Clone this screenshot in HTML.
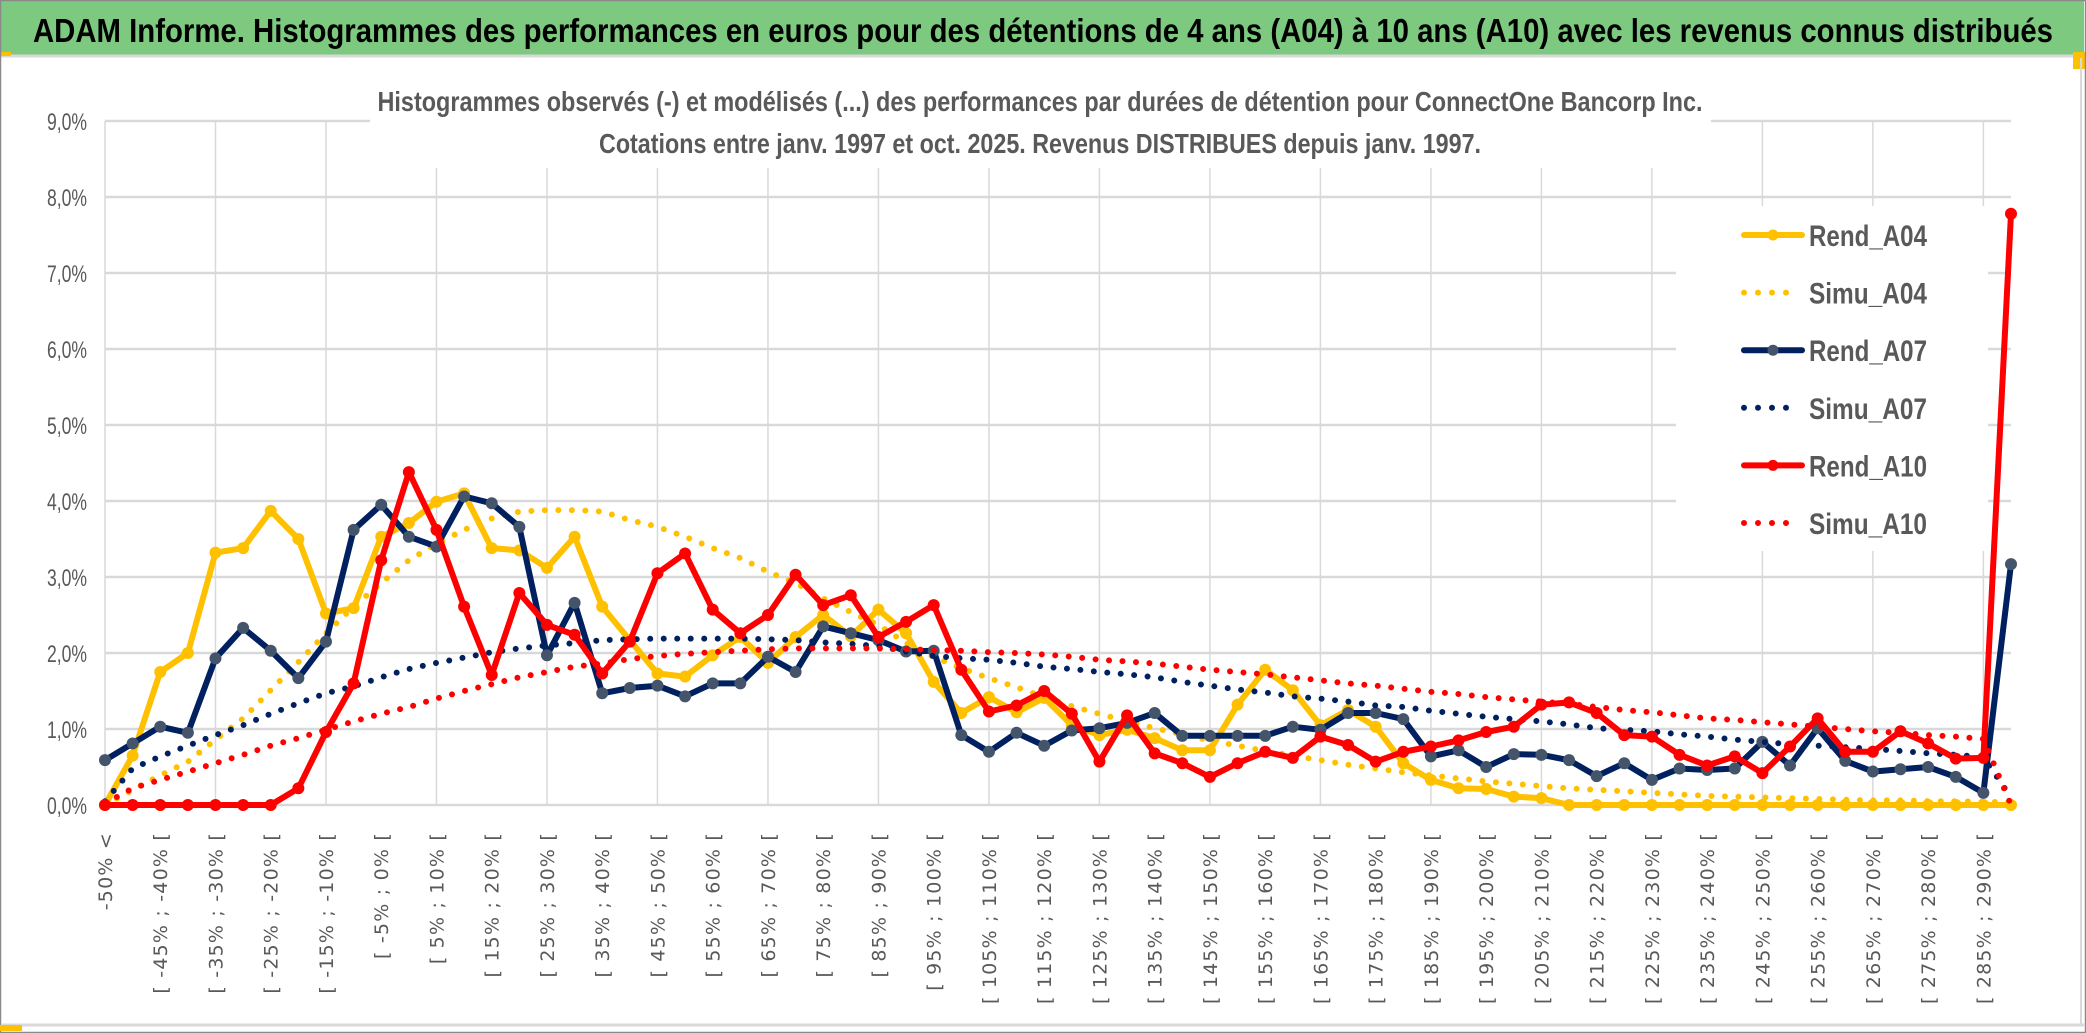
<!DOCTYPE html>
<html><head><meta charset="utf-8"><style>
html,body{margin:0;padding:0;background:#fff;}
svg{display:block;}
</style></head><body>
<svg id="chart" xmlns="http://www.w3.org/2000/svg" width="2086" height="1033" viewBox="0 0 2086 1033">
<rect x="0" y="0" width="2086" height="1033" fill="#fff"/>
<rect x="0" y="1" width="2084" height="54" fill="#7DC97F"/>
<line x1="0" y1="56" x2="2086" y2="56" stroke="#d9d9d9" stroke-width="3"/>
<rect x="0" y="52" width="11" height="4" fill="#FFC000"/>
<rect x="2073" y="52" width="12" height="17" fill="#FFC000"/>
<rect x="0.5" y="0.5" width="2085" height="1032" fill="none" stroke="#8a8a8a" stroke-width="1.5"/>
<line x1="2" y1="1025" x2="2084" y2="1025" stroke="#d9d9d9" stroke-width="3"/>
<rect x="0" y="1025" width="22" height="6" fill="#FFC000"/>
<line x1="2081" y1="58" x2="2081" y2="1024" stroke="#d9d9d9" stroke-width="2"/>
<text x="33" y="42" font-family="Liberation Sans, sans-serif" font-weight="bold" font-size="33" fill="#000" textLength="2020" lengthAdjust="spacingAndGlyphs">ADAM Informe. Histogrammes des performances en euros pour des détentions de 4 ans (A04) à 10 ans (A10) avec les revenus connus distribués</text>
<g id="grid"></g>
<rect x="370" y="70" width="1341" height="98" fill="#fff"/>
<rect x="1676" y="206" width="312" height="345" fill="#fff"/>
<text x="1040" y="111" text-anchor="middle" font-family="Liberation Sans, sans-serif" font-weight="bold" font-size="28" fill="#595959" textLength="1325" lengthAdjust="spacingAndGlyphs">Histogrammes observés (-) et modélisés (...) des performances par durées de détention pour ConnectOne Bancorp Inc.</text>
<text x="1040" y="153" text-anchor="middle" font-family="Liberation Sans, sans-serif" font-weight="bold" font-size="28" fill="#595959" textLength="882" lengthAdjust="spacingAndGlyphs">Cotations entre janv. 1997 et oct. 2025. Revenus DISTRIBUES depuis janv. 1997.</text>
<g id="yaxis"></g>
<g id="xaxis"></g>
<g id="series"></g>
<g id="legend"></g>
</svg>
<script>
const yTicks = [0,1,2,3,4,5,6,7,8,9];
const yTickLabels = ["0,0%","1,0%","2,0%","3,0%","4,0%","5,0%","6,0%","7,0%","8,0%","9,0%"];
const binStarts = [];
for (let k = 1; k < 70; k++) binStarts.push(-50 + 5*(k-1));
const categories = ["-50% <"].concat(binStarts.map(a => "[ " + a + "% ; " + (a+5) + "% ["));
const rendA04 = [0,0.65,1.75,2.0,3.32,3.38,3.87,3.5,2.52,2.59,3.53,3.71,3.99,4.1,3.38,3.35,3.12,3.53,2.61,2.17,1.73,1.69,1.97,2.21,1.87,2.21,2.5,2.22,2.57,2.26,1.62,1.21,1.42,1.22,1.41,1.05,0.92,0.99,0.88,0.72,0.72,1.32,1.78,1.51,1.05,1.25,1.03,0.55,0.33,0.22,0.21,0.11,0.09,0,0,0,0,0,0,0,0,0,0,0,0,0,0,0,0,0];
const simuA04 = [0,0.2,0.39,0.57,0.86,1.14,1.51,1.88,2.26,2.61,2.92,3.22,3.44,3.62,3.77,3.86,3.88,3.88,3.86,3.75,3.66,3.53,3.38,3.25,3.07,2.92,2.72,2.54,2.37,2.13,1.95,1.8,1.67,1.55,1.42,1.3,1.2,1.1,1.01,0.93,0.85,0.78,0.71,0.65,0.59,0.53,0.48,0.43,0.39,0.35,0.31,0.28,0.25,0.22,0.2,0.18,0.16,0.14,0.12,0.11,0.1,0.09,0.08,0.07,0.06,0.06,0.05,0.05,0.04,0.04];
const rendA07 = [0.59,0.81,1.03,0.95,1.93,2.33,2.03,1.67,2.15,3.62,3.95,3.53,3.4,4.06,3.97,3.66,1.97,2.66,1.47,1.54,1.57,1.43,1.6,1.6,1.95,1.75,2.35,2.26,2.17,2.02,2.03,0.92,0.7,0.95,0.78,0.98,1.01,1.08,1.21,0.91,0.91,0.91,0.91,1.03,0.99,1.21,1.21,1.13,0.64,0.72,0.5,0.67,0.66,0.59,0.38,0.55,0.33,0.48,0.46,0.48,0.83,0.52,1.01,0.58,0.44,0.47,0.5,0.37,0.16,3.17];
const simuA07 = [0.05,0.48,0.64,0.78,0.92,1.05,1.2,1.34,1.47,1.56,1.68,1.79,1.87,1.94,2.01,2.06,2.1,2.13,2.17,2.18,2.19,2.19,2.19,2.19,2.18,2.17,2.14,2.12,2.09,2.02,1.96,1.93,1.91,1.87,1.82,1.79,1.75,1.72,1.68,1.62,1.57,1.52,1.48,1.43,1.4,1.36,1.31,1.29,1.24,1.2,1.16,1.13,1.1,1.06,1.01,0.99,0.97,0.93,0.9,0.86,0.83,0.8,0.78,0.76,0.74,0.71,0.68,0.66,0.63,0.1];
const rendA10 = [0,0,0,0,0,0,0,0.22,0.96,1.6,3.22,4.38,3.62,2.61,1.71,2.79,2.37,2.24,1.73,2.15,3.05,3.31,2.57,2.26,2.5,3.03,2.63,2.76,2.21,2.41,2.63,1.78,1.23,1.31,1.5,1.2,0.57,1.18,0.68,0.55,0.37,0.55,0.7,0.62,0.9,0.79,0.57,0.7,0.77,0.85,0.96,1.03,1.32,1.35,1.21,0.92,0.9,0.66,0.52,0.64,0.42,0.77,1.14,0.7,0.7,0.97,0.81,0.61,0.62,7.78];
const simuA10 = [0.02,0.22,0.33,0.44,0.55,0.66,0.78,0.88,0.99,1.1,1.2,1.29,1.4,1.5,1.59,1.68,1.75,1.82,1.86,1.92,1.96,1.99,2.01,2.03,2.05,2.06,2.06,2.06,2.06,2.05,2.04,2.03,2.01,2.0,1.98,1.95,1.91,1.89,1.86,1.82,1.78,1.75,1.72,1.68,1.64,1.6,1.57,1.53,1.49,1.46,1.42,1.39,1.36,1.33,1.29,1.25,1.22,1.18,1.14,1.12,1.09,1.06,1.03,1.0,0.97,0.95,0.92,0.9,0.87,0.0];
const seriesNames = ["Rend_A04","Simu_A04","Rend_A07","Simu_A07","Rend_A10","Simu_A10"];

const NS = "http://www.w3.org/2000/svg";
const X0 = 105, X1 = 2011, Y0 = 805, PER = 76;
const n = categories.length;
function xPos(i){ return X0 + i*(X1-X0)/(n-1); }
function yPos(v){ return Y0 - v*PER; }
function mk(tag, attrs, parent){ const e = document.createElementNS(NS, tag); for (const k in attrs) e.setAttribute(k, attrs[k]); parent.appendChild(e); return e; }

const grid = document.getElementById("grid");
yTicks.forEach(t => {
  const l = mk("line", {x1:X0, x2:X1, y1:yPos(t), y2:yPos(t), stroke:"#d9d9d9", "stroke-width":2.5}, grid);
  
  
});
for (let i = 0; i < n; i += 4) {
  const l = mk("line", {x1:xPos(i), x2:xPos(i), y1:yPos(9), y2:Y0, stroke:"#d9d9d9", "stroke-width":1.5}, grid);
  
  
}

const yaxis = document.getElementById("yaxis");
yTicks.forEach((t, k) => {
  const tx = mk("text", {x:87, y:yPos(t)+9, "text-anchor":"end", "font-family":"Liberation Sans, sans-serif", "font-size":24, fill:"#595959", textLength:40, lengthAdjust:"spacingAndGlyphs"}, yaxis);
  tx.textContent = yTickLabels[k];
  
  
});

const xaxis = document.getElementById("xaxis");
for (let i = 0; i < n; i += 2) {
  const x = xPos(i) + 7, y = 832;
  const tx = mk("text", {x:x, y:y, "text-anchor":"end", transform:"rotate(-90 "+x+" "+y+")", "font-family":"DejaVu Sans, sans-serif", "font-size":19, "letter-spacing":1.2, fill:"#595959"}, xaxis);
  tx.textContent = categories[i];
  
  
}

const sg = document.getElementById("series");
function pts(arr){ return arr.map((v,i) => xPos(i).toFixed(1)+","+yPos(v).toFixed(1)).join(" "); }
function solid(arr, color, markerColor, name){
  const g = mk("g", {}, sg);
  
  
  mk("polyline", {points:pts(arr), fill:"none", stroke:color, "stroke-width":6, "stroke-linejoin":"round", "stroke-linecap":"round"}, g);
  arr.forEach((v,i) => {
    const c = mk("circle", {cx:xPos(i), cy:yPos(v), r:6, fill:markerColor}, g);
    
    
  });
}
function dotted(arr, color, name){
  const p = mk("polyline", {points:pts(arr), fill:"none", stroke:color, "stroke-width":6, "stroke-dasharray":"0 13.5", "stroke-linecap":"round", "stroke-linejoin":"round"}, sg);
  
  
}
solid(rendA04, "#FFC000", "#FFC000", "series-rend-a04");
dotted(simuA04, "#FFC000", "series-simu-a04");
solid(rendA07, "#002060", "#44546A", "series-rend-a07");
dotted(simuA07, "#002060", "series-simu-a07");
solid(rendA10, "#FF0000", "#FF0000", "series-rend-a10");
dotted(simuA10, "#FF0000", "series-simu-a10");

const lg = document.getElementById("legend");
const lgColors = ["#FFC000","#FFC000","#002060","#002060","#FF0000","#FF0000"];
const lgMarkers = ["#FFC000",null,"#44546A",null,"#FF0000",null];
seriesNames.forEach((nm, k) => {
  const y = 235 + k*57.6;
  const g = mk("g", {}, lg);
  
  
  if (lgMarkers[k]) {
    mk("line", {x1:1744, x2:1802, y1:y, y2:y, stroke:lgColors[k], "stroke-width":6, "stroke-linecap":"round"}, g);
    mk("circle", {cx:1773, cy:y, r:5.5, fill:lgMarkers[k]}, g);
  } else {
    mk("line", {x1:1744, x2:1800, y1:y, y2:y, stroke:lgColors[k], "stroke-width":6, "stroke-dasharray":"0 14", "stroke-linecap":"round"}, g);
  }
  const tx = mk("text", {x:1809, y:y+11, "font-family":"Liberation Sans, sans-serif", "font-weight":"bold", "font-size":30, fill:"#595959", textLength:118, lengthAdjust:"spacingAndGlyphs"}, g);
  tx.textContent = nm;
  
  
});
</script>
</body></html>
